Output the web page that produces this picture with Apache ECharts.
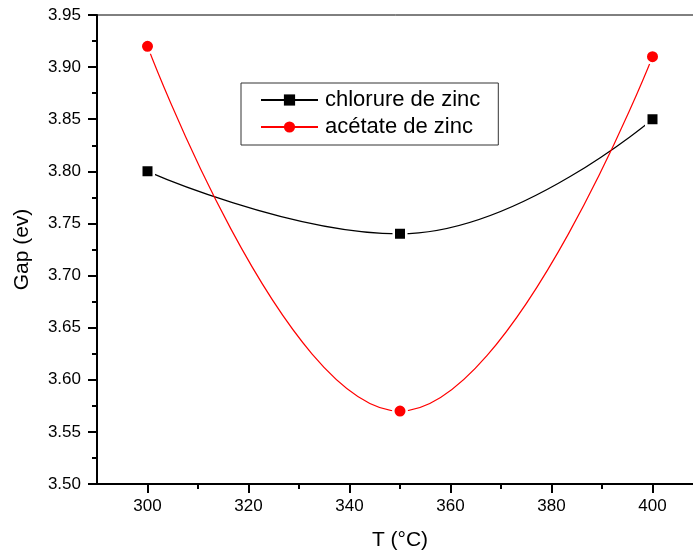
<!DOCTYPE html>
<html>
<head>
<meta charset="utf-8">
<script src="https://cdn.jsdelivr.net/npm/echarts@6/dist/echarts.min.js"></script>
<style>
  html, body { margin: 0; padding: 0; background: #fff; }
  #chart { width: 693px; height: 554px; }
</style>
</head>
<body>
<div id="chart"></div>
<script>
// Optical band gap vs. annealing temperature for two zinc precursors
const temperatures = [300, 350, 400];
const gapChlorure = [3.80, 3.74, 3.85];
const gapAcetate = [3.92, 3.57, 3.91];
const seriesNames = ['chlorure de zinc', 'acétate de zinc'];

// Temperature axis: labelled major ticks and unlabelled minor ticks
const xMajorTicks = [300, 320, 340, 360, 380, 400];
const xMinorTicks = [310, 330, 350, 370, 390];

const FONT = 'Liberation Sans, Arial, sans-serif';

function pairs(xs, ys) {
  return xs.map((x, i) => [x, ys[i]]);
}

const chart = echarts.init(document.getElementById('chart'), null, { renderer: 'canvas' });

const black = '#000';
const tickLine = { color: black, width: 2 };

chart.setOption({
  animation: false,
  backgroundColor: '#fff',
  grid: {
    left: 97, top: 15, width: 606, height: 469,
    outerBoundsMode: 'none',
    containLabel: false,
    show: true, borderColor: black, borderWidth: 1, backgroundColor: '#fff'
  },
  xAxis: [
    {
      type: 'value',
      min: 290, max: 410,
      position: 'bottom',
      name: 'T (°C)',
      nameLocation: 'middle',
      nameGap: 46,
      nameTextStyle: { color: black, fontFamily: FONT, fontSize: 21 },
      axisLine: { show: true, onZero: false, lineStyle: { color: black, width: 2 } },
      axisTick: { show: true, length: 9, customValues: xMajorTicks, lineStyle: tickLine },
      axisLabel: {
        color: black, fontFamily: FONT, fontSize: 17, margin: 14,
        customValues: xMajorTicks
      },
      splitLine: { show: false }
    },
    {
      type: 'value',
      min: 290, max: 410,
      position: 'bottom',
      axisLine: { show: false, onZero: false },
      axisTick: { show: true, length: 5, customValues: xMinorTicks, lineStyle: tickLine },
      axisLabel: { show: false },
      splitLine: { show: false }
    }
  ],
  yAxis: {
    type: 'value',
    min: 3.5, max: 3.95, interval: 0.05,
    name: 'Gap (ev)',
    nameLocation: 'middle',
    nameGap: 64,
    nameTextStyle: { color: black, fontFamily: FONT, fontSize: 21 },
    axisLine: { show: true, onZero: false, lineStyle: { color: black, width: 2 } },
    axisTick: { show: true, length: 9, lineStyle: tickLine },
    minorTick: { show: true, splitNumber: 2, length: 5, lineStyle: tickLine },
    axisLabel: {
      color: black, fontFamily: FONT, fontSize: 17, margin: 16,
      formatter: v => v.toFixed(2)
    },
    splitLine: { show: false }
  },
  legend: {
    orient: 'vertical',
    left: 241, top: 83,
    padding: [6, 18, 7, 19],
    itemGap: 5,
    itemWidth: 57, itemHeight: 14,
    borderColor: '#333', borderWidth: 1,
    backgroundColor: '#fff',
    itemStyle: { borderWidth: 0 },
    textStyle: { color: black, fontFamily: FONT, fontSize: 22, padding: [0, 0, 0, 2] },
    data: seriesNames
  },
  series: [
    {
      name: seriesNames[0],
      type: 'line',
      xAxisIndex: 0,
      data: pairs(temperatures, gapChlorure),
      smooth: 0.45,
      symbol: 'rect',
      symbolSize: 12.5,
      lineStyle: { color: black, width: 1.2 },
      itemStyle: { color: black, borderColor: '#fff', borderWidth: 2.5 },
      z: 2
    },
    {
      name: seriesNames[1],
      type: 'line',
      xAxisIndex: 0,
      data: pairs(temperatures, gapAcetate),
      smooth: 0.45,
      symbol: 'circle',
      symbolSize: 13.5,
      lineStyle: { color: '#ff0000', width: 1.2 },
      itemStyle: { color: '#ff0000', borderColor: '#fff', borderWidth: 2.5 },
      z: 3
    }
  ]
});
</script>
</body>
</html>
